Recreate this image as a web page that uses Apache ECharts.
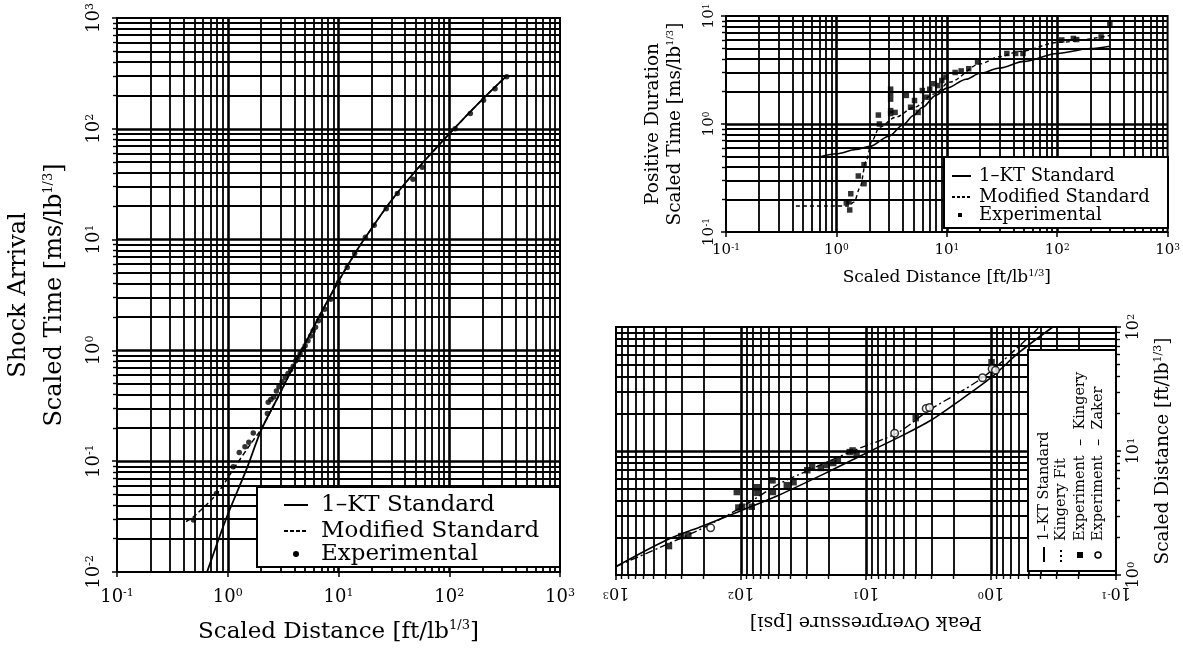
<!DOCTYPE html>
<html><head><meta charset="utf-8">
<script src="https://cdn.jsdelivr.net/npm/echarts@6/dist/echarts.min.js"></script>
<style>html,body{margin:0;padding:0;background:#fff}#c{width:1183px;height:652px}</style>
</head><body><div id="c"></div>
<script>
// ---------- Chart 1: Shock arrival ----------
const arrivalStdDist = [0.65, 0.8, 1.0, 1.5, 2.0, 3.0, 4.0, 5.0, 7.0, 10, 15, 20, 30, 50, 100, 200, 330];
const arrivalStdTime = [0.01, 0.018, 0.033, 0.088, 0.19, 0.42, 0.75, 1.15, 2.2, 4.2, 8.3, 12.7, 22.5, 42, 90, 185, 300];
const arrivalModDist = [0.42, 0.5, 0.8, 1.17, 1.6, 2.0, 3.0, 4.0, 5.0, 7.0, 10, 15, 20, 30, 50, 100, 200, 330];
const arrivalModTime = [0.0285, 0.032, 0.051, 0.09, 0.142, 0.195, 0.42, 0.75, 1.15, 2.2, 4.2, 8.3, 12.7, 22.5, 42, 90, 185, 300];
const arrivalExpDist = [0.49, 0.79, 1.12, 1.27, 1.43, 1.55, 1.7, 2.28, 2.32, 2.45, 2.6, 2.75, 2.9, 3.1, 3.3, 3.5, 3.7, 3.9, 4.1, 4.3, 4.5, 4.8, 5.0, 5.3, 5.6, 5.9, 6.2, 6.6, 7.0, 7.5, 8.5, 10, 12, 14, 17.5, 21, 27, 34, 47, 57, 113, 155, 204, 259, 330];
const arrivalExpTime = [0.0295, 0.051, 0.089, 0.12, 0.135, 0.148, 0.18, 0.27, 0.34, 0.36, 0.38, 0.43, 0.47, 0.52, 0.57, 0.62, 0.67, 0.72, 0.8, 0.86, 0.93, 1.02, 1.1, 1.22, 1.35, 1.5, 1.62, 1.85, 2.05, 2.35, 2.9, 4.1, 5.6, 7.5, 10.5, 13.5, 19, 26, 35, 45, 100, 137, 181, 230, 295];

// ---------- Chart 2: Positive duration ----------
const durStdDist = [0.73, 1, 1.5, 2, 3, 4, 5, 6, 8, 10, 15, 20, 30, 50, 100, 200, 300];
const durStdTime = [0.5, 0.53, 0.58, 0.62, 0.77, 0.98, 1.2, 1.42, 1.85, 2.15, 2.6, 2.95, 3.3, 3.8, 4.5, 5.0, 5.25];
const durModDist = [0.43, 0.8, 1.28, 1.45, 1.64, 1.85, 2.1, 2.45, 3.4, 5.1, 7.7, 10.6, 20, 30, 46, 102, 300];
const durModTime = [0.174, 0.174, 0.174, 0.19, 0.26, 0.45, 0.7, 0.93, 1.15, 1.43, 1.9, 2.44, 3.6, 4.2, 4.7, 5.7, 6.6];
const durExpDist = [1.23, 1.3, 1.32, 1.35, 1.58, 1.78, 1.78, 2.4, 2.45, 3.1, 3.1, 3.1, 3.1, 3.1, 3.4, 4.3, 4.7, 5.1, 5.5, 6.0, 6.5, 7.0, 7.6, 8.3, 9.0, 9.8, 11.9, 13.5, 15.8, 19, 35, 42, 49, 110, 140, 150, 250, 300];
const durExpTime = [0.186, 0.19, 0.16, 0.226, 0.33, 0.42, 0.28, 1.21, 1.0, 2.1, 1.9, 1.7, 1.33, 1.25, 1.28, 1.84, 1.43, 1.65, 1.28, 2.04, 1.77, 2.1, 2.36, 2.27, 2.53, 2.72, 3.0, 3.1, 3.25, 3.75, 4.5, 4.5, 4.5, 6.0, 6.2, 6.05, 6.4, 8.5];

// ---------- Chart 3: Peak overpressure (pressure, distance) ----------
const opStdPress = [1000, 400, 200, 100, 50, 20, 10, 5, 3, 2, 1, 0.6, 0.32];
const opStdDist = [1.17, 1.9, 2.5, 3.3, 4.4, 6.8, 9.6, 13.5, 17.8, 23.5, 39, 62, 100];
const opFitPress = [1000, 400, 200, 100, 50, 27, 13.5, 5.6, 3.2, 1.13, 0.41];
const opFitDist = [1.17, 1.75, 2.4, 3.5, 5.4, 7.2, 9.8, 14, 21, 40, 100];
const opKingPress = [377, 300, 264, 105, 98, 82, 108, 74.5, 56, 74, 55.6, 43, 38, 29.5, 27, 23, 20.6, 18.3, 16.8, 13.5, 12.8, 11.9, 4.0, 0.99];
const opKingDist = [1.71, 2.06, 2.09, 3.5, 3.55, 3.55, 4.67, 5.1, 5.8, 4.6, 4.67, 5.3, 5.6, 7.0, 7.4, 7.3, 7.7, 8.0, 8.4, 9.8, 10.1, 9.6, 18.4, 52];
const opZakerPress = [175, 5.9, 3.3, 3.1, 1.17, 0.98, 0.92];
const opZakerDist = [2.4, 13.9, 22, 22.4, 39, 46, 44.7];

const F = "'DejaVu Serif','Liberation Serif',serif";
const K = '#000';
const pairs = (xs, ys) => xs.map((x, i) => [x, ys[i]]);
const expLabel = v => '{b|10}{s|' + Math.round(Math.log10(v)) + '}';

function gridValues(min, max) {
  const out = [];
  for (let e = Math.round(Math.log10(min)); e < Math.round(Math.log10(max)); e++) {
    for (let m = 1; m <= 9; m++) {
      const v = +(m * Math.pow(10, e)).toPrecision(4);
      if (v > min * 1.001 && v < max * 0.999) out.push({ v, major: m === 1 });
    }
  }
  return out;
}
function gridSeries(xi, xmin, xmax, ymin, ymax, anchor) {
  const data = [];
  gridValues(xmin, xmax).forEach(g => data.push({ xAxis: g.v, lineStyle: { width: g.major ? 2.6 : 1.8 } }));
  gridValues(ymin, ymax).forEach(g => data.push({ yAxis: g.v, lineStyle: { width: g.major ? 2.6 : 1.8 } }));
  return {
    type: 'line', xAxisIndex: xi, yAxisIndex: xi, data: [anchor], showSymbol: false, silent: true,
    lineStyle: { opacity: 0 }, z: 1,
    markLine: { silent: true, symbol: ['none', 'none'], label: { show: false }, animation: false,
      lineStyle: { color: '#000', type: 'solid', width: 1.8 }, data }
  };
}
function labelCfg(base, sup, rotate, margin) {
  return { formatter: expLabel, rotate, margin, color: K,
    rich: { b: { fontFamily: F, fontSize: base, color: K }, s: { fontFamily: F, fontSize: sup, color: K, verticalAlign: 'top' } } };
}
function logAxis(o) {
  return Object.assign({
    type: 'log', logBase: 10,
    axisLine: { show: true, onZero: false, lineStyle: { color: K, width: 2 } },
    axisTick: { show: true, length: 5, lineStyle: { color: K, width: 1.5 } },
    splitLine: { show: false }
  }, o);
}
const minor = { show: true, splitNumber: 9, length: 4, lineStyle: { color: K, width: 1.4 } };
function nameStyle(size, sup, lh) {
  return { fontFamily: F, fontSize: size, color: K, lineHeight: lh,
    rich: { s: { fontFamily: F, fontSize: sup, color: K, verticalAlign: 'middle', padding: [0, 0, Math.round(size * 0.55), 0] } } };
}

const txt = (x, y, text, size, rot) => ({ type: 'text', x, y, rotation: rot || 0, z: 101,
  style: { text, fontFamily: F, fontSize: size, fill: K, align: 'left', verticalAlign: 'middle', textAlign: 'left', textVerticalAlign: 'middle' } });
const seg = (x1, y1, x2, y2, dash) => ({ type: 'line', z: 101, shape: { x1, y1, x2, y2 }, style: { stroke: K, lineWidth: 2, lineDash: dash || null } });
const box = (x, y, w, h) => ({ type: 'rect', z: 100, shape: { x, y, width: w, height: h }, style: { fill: '#fff', stroke: K, lineWidth: 2 } });

const option = {
  animation: false,
  backgroundColor: '#fff',
  grid: [
    { left: 108, top: 16, width: 452, height: 556, show: true, borderColor: K, borderWidth: 2 },
    { left: 726, top: 16, width: 442, height: 216, show: true, borderColor: K, borderWidth: 2 },
    { left: 616, top: 327, width: 500, height: 248, show: true, borderColor: K, borderWidth: 2 }
  ],
  xAxis: [
    logAxis({ gridIndex: 0, min: 0.1, max: 1000, axisLabel: labelCfg(18, 11, 0, 16),
      name: 'Scaled Distance [ft/lb{s|1/3}]', nameLocation: 'middle', nameGap: 46, nameTextStyle: nameStyle(23, 13, 28) }),
    logAxis({ gridIndex: 1, min: 0.1, max: 1000, axisLabel: labelCfg(15, 9, 0, 11),
      name: 'Scaled Distance [ft/lb{s|1/3}]', nameLocation: 'middle', nameGap: 36, nameTextStyle: nameStyle(17, 10, 20) }),
    logAxis({ gridIndex: 2, min: 0.1, max: 1000, inverse: true, axisLabel: labelCfg(16, 10, 180, 9), minorTick: minor,
      name: 'Peak Overpressure [psi]', nameLocation: 'middle', nameGap: 36, nameRotate: 180, nameTextStyle: nameStyle(19, 11, 22) })
  ],
  yAxis: [
    logAxis({ gridIndex: 0, min: 0.01, max: 1000, axisLabel: labelCfg(18, 11, 90, 14), minorTick: minor,
      name: 'Shock Arrival\nScaled Time [ms/lb{s|1/3}]', nameLocation: 'middle', nameRotate: 90, nameGap: 44, nameTextStyle: nameStyle(24, 13, 36) }),
    logAxis({ gridIndex: 1, min: 0.1, max: 10, axisLabel: labelCfg(15, 9, 90, 9), minorTick: minor,
      name: 'Positive Duration\nScaled Time [ms/lb{s|1/3}]', nameLocation: 'middle', nameRotate: 90, nameGap: 40, nameTextStyle: nameStyle(18.5, 10, 22) }),
    logAxis({ gridIndex: 2, min: 1, max: 100, position: 'right', axisLabel: labelCfg(16, 10, 90, 10), minorTick: minor,
      name: 'Scaled Distance [ft/lb{s|1/3}]', nameLocation: 'middle', nameRotate: 90, nameGap: 36, nameTextStyle: nameStyle(18.5, 11, 22) })
  ],
  series: [
    gridSeries(0, 0.1, 1000, 0.01, 1000, [1, 1]),
    gridSeries(1, 0.1, 1000, 0.1, 10, [1, 1]),
    gridSeries(2, 0.1, 1000, 1, 100, [10, 10]),
    { type: 'line', name: '1-KT Standard', xAxisIndex: 0, yAxisIndex: 0, z: 5, data: pairs(arrivalStdDist, arrivalStdTime),
      smooth: 0.3, showSymbol: false, lineStyle: { color: K, width: 1.8 } },
    { type: 'line', name: 'Modified Standard', xAxisIndex: 0, yAxisIndex: 0, z: 5, data: pairs(arrivalModDist, arrivalModTime),
      smooth: 0.3, showSymbol: false, lineStyle: { color: K, width: 1.5, type: [5, 3] } },
    { type: 'scatter', name: 'Experimental', xAxisIndex: 0, yAxisIndex: 0, z: 6, data: pairs(arrivalExpDist, arrivalExpTime),
      symbol: 'circle', symbolSize: 5.5, itemStyle: { color: K } },
    { type: 'line', name: '1-KT Standard', xAxisIndex: 1, yAxisIndex: 1, z: 5, data: pairs(durStdDist, durStdTime),
      smooth: 0.3, smoothMonotone: 'x', showSymbol: false, lineStyle: { color: K, width: 1.6 } },
    { type: 'line', name: 'Modified Standard', xAxisIndex: 1, yAxisIndex: 1, z: 5, data: pairs(durModDist, durModTime),
      smooth: 0.3, smoothMonotone: 'x', showSymbol: false, lineStyle: { color: K, width: 1.4, type: [4, 3] } },
    { type: 'scatter', name: 'Experimental', xAxisIndex: 1, yAxisIndex: 1, z: 6, data: pairs(durExpDist, durExpTime),
      symbol: 'rect', symbolSize: 5.5, itemStyle: { color: K } },
    { type: 'line', name: '1-KT Standard', xAxisIndex: 2, yAxisIndex: 2, z: 5, data: pairs(opStdPress, opStdDist),
      smooth: 0.3, showSymbol: false, lineStyle: { color: K, width: 1.6 } },
    { type: 'line', name: 'Kingery Fit', xAxisIndex: 2, yAxisIndex: 2, z: 5, data: pairs(opFitPress, opFitDist),
      smooth: 0.3, showSymbol: false, lineStyle: { color: K, width: 1.4, type: [8, 3, 2, 3] } },
    { type: 'scatter', name: 'Experiment - Kingery', xAxisIndex: 2, yAxisIndex: 2, z: 6, data: pairs(opKingPress, opKingDist),
      symbol: 'rect', symbolSize: 6.5, itemStyle: { color: K } },
    { type: 'scatter', name: 'Experiment - Zaker', xAxisIndex: 2, yAxisIndex: 2, z: 6, data: pairs(opZakerPress, opZakerDist),
      symbol: 'circle', symbolSize: 7.5, itemStyle: { color: '#fff', borderColor: K, borderWidth: 1.5 } }
  ],
  graphic: [
    // legend chart 1
    box(257, 487, 303, 80),
    seg(284, 505, 308, 505), txt(321, 505, '1–KT Standard', 23),
    seg(284, 531, 308, 531, [4, 2]), txt(321, 531, 'Modified Standard', 23),
    { type: 'circle', z: 101, shape: { cx: 296, cy: 554, r: 3 }, style: { fill: K } }, txt(321, 554, 'Experimental', 23),
    // legend chart 2
    box(944, 157, 224, 71),
    seg(952, 176, 971, 176), txt(979, 176, '1–KT Standard', 18),
    seg(952, 197, 971, 197, [3, 2]), txt(979, 197, 'Modified Standard', 18),
    { type: 'rect', z: 101, shape: { x: 958, y: 213, width: 4, height: 4 }, style: { fill: K } }, txt(979, 215, 'Experimental', 18),
    // legend chart 3 (rotated)
    box(1028, 350, 88, 221),
    seg(1044, 562, 1044, 547), txt(1044, 541, '1–KT Standard', 14.5, Math.PI / 2),
    seg(1061, 562, 1061, 547, [2, 3]), txt(1061, 541, 'Kingery Fit', 14.5, Math.PI / 2),
    { type: 'rect', z: 101, shape: { x: 1077, y: 552, width: 6, height: 6 }, style: { fill: K } }, txt(1080, 541, 'Experiment  –  Kingery', 14.5, Math.PI / 2),
    { type: 'circle', z: 101, shape: { cx: 1098, cy: 555, r: 3 }, style: { fill: '#fff', stroke: K, lineWidth: 1.5 } }, txt(1098, 541, 'Experiment  –  Zaker', 14.5, Math.PI / 2)
  ]
};
const chart = echarts.init(document.getElementById('c'), null, { renderer: 'canvas' });
chart.setOption(option);
</script></body></html>
